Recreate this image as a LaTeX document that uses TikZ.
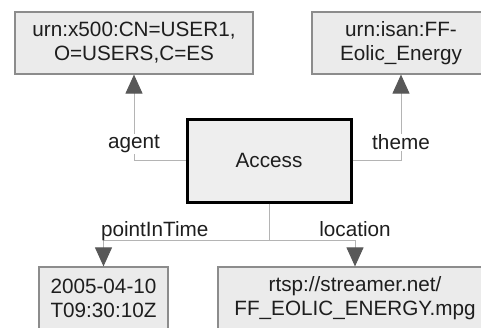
\documentclass[tikz,border=0pt]{standalone}
\usepackage{fontspec}
\setmainfont{Liberation Sans}
\usetikzlibrary{arrows.meta}
\definecolor{boxfill}{HTML}{EBEBEB}
\definecolor{boxline}{HTML}{8C8C8C}
\definecolor{wire}{HTML}{B4B4B4}
\definecolor{tipgray}{HTML}{585858}
\definecolor{ink}{HTML}{1E1E1E}
\tikzset{
  valuebox/.style={draw=boxline, line width=1.2pt, fill=boxfill, inner sep=0pt, align=center, text=ink},
  classbox/.style={draw=black, line width=3pt, fill=boxfill!85!white, inner sep=0pt, text=ink},
  rel/.style={draw=wire, line width=1pt, -{Triangle[length=19pt,width=17pt,color=tipgray]}},
  plain/.style={draw=wire, line width=1pt},
  onlabel/.style={fill=white, inner sep=1pt, text=ink},
  toplabel/.style={inner sep=1pt, text=ink, text height=0.72em, text depth=0.21em}
}

\begin{document}
\begin{tikzpicture}[x=1pt, y=-1pt, font=\fontsize{20.7}{24}\selectfont]
		%%%%% START %%%%%
		\useasboundingbox (0,0) rectangle (481,327);
		
		% values
		\node[valuebox, minimum width=238pt, minimum height=62pt] (user) at (134,43) {urn:x500:CN=USER1,\\O=USERS,C=ES};
		\node[valuebox, minimum width=178pt, minimum height=62pt] (isan) at (401,43) {urn:isan:FF-\\Eolic\_Energy};
		\node[valuebox, minimum width=129pt, minimum height=62pt] (time) at (103.5,298) {2005-04-10\\T09:30:10Z};
		\node[valuebox, minimum width=274pt, minimum height=62pt] (loc) at (355,298) {rtsp://streamer.net/\\FF\_EOLIC\_ENERGY.mpg};
		
		% the class
		\node[classbox, minimum width=164pt, minimum height=83pt] (access) at (269,160.5) {Access};
		
		% relations
		\draw[rel] (access.west) -| node[onlabel, pos=0.595] {agent} (user.south);
		\draw[rel] (access.east) -| node[onlabel, pos=0.607] {theme} (isan.south);
		
		\path (access.south) ++(0,37) coordinate (fork);
		\draw[plain] (access.south) -- (fork);
		\draw[rel] (fork) -| node[toplabel, pos=0.5, anchor=south west, xshift=-4pt] {pointInTime} (time.north);
		\draw[rel] (fork) -| node[toplabel, pos=0.5, anchor=south] {location} (loc.north);
		
		%%%%% END %%%%%
\end{tikzpicture}
\end{document}
